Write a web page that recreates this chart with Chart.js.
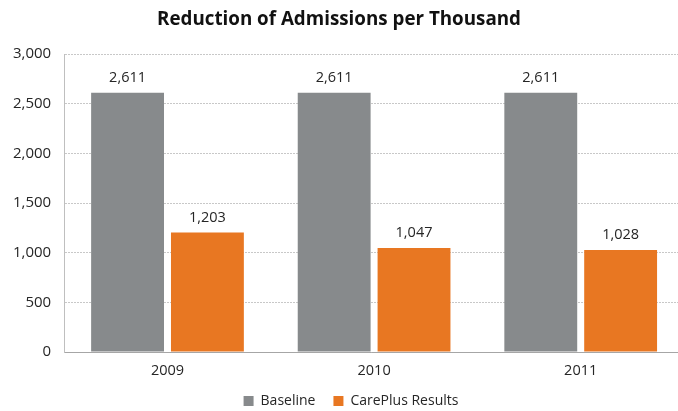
<!DOCTYPE html>
<html><head><meta charset="utf-8">
<script src="https://cdn.jsdelivr.net/npm/chart.js@4"></script>
<style>html,body{margin:0;padding:0;background:#fff;overflow:hidden}#wrap{width:678px;height:411px}</style>
</head><body><div id="wrap"><canvas id="c" width="678" height="411"></canvas></div>
<script>
const categories = ["2009", "2010", "2011"];
const baseline = [2611, 2611, 2611];
const careplus = [1203, 1047, 1028];
const yTicks = [0, 500, 1000, 1500, 2000, 2500, 3000];
const seriesNames = ["Baseline", "CarePlus Results"];

const FONT = "'Open Sans', 'Noto Sans', sans-serif";

const labelPlugin = {
  id: 'valueLabels',
  afterDatasetsDraw(chart) {
    const ctx = chart.ctx;
    ctx.save();
    ctx.font = "14.5px " + FONT;
    ctx.fillStyle = '#262626';
    ctx.textAlign = 'center';
    ctx.textBaseline = 'middle';
    chart.data.datasets.forEach((ds, i) => {
      chart.getDatasetMeta(i).data.forEach((bar, j) => {
        ctx.fillText(ds.data[j].toLocaleString('en-US'), bar.x, bar.y - 15);
      });
    });
    ctx.restore();
  }
};

// Plot area placement as in the reference (it runs slightly past the right edge).
const areaPlugin = {
  id: 'areaAdjust',
  afterLayout(chart) {
    const x = chart.scales.x, y = chart.scales.y, a = chart.chartArea;
    const top = 54, bottom = 352, right = 684;
    x.right = right; x.width = right - x.left;
    const xh = x.height; x.top = bottom; x.bottom = bottom + xh;
    x.configure();
    y.top = top; y.bottom = bottom; y.height = bottom - top;
    y.configure();
    a.right = right; a.width = right - a.left;
    a.top = top; a.bottom = bottom; a.height = bottom - top;
    const lg = chart.legend;
    if (lg) {
      lg.left += 12; lg.right += 12;
      const h = lg.height; lg.top = 376; lg.bottom = 376 + h;
    }
  }
};

new Chart(document.getElementById('c'), {
  type: 'bar',
  data: {
    labels: categories,
    datasets: [
      { label: seriesNames[0], data: baseline, backgroundColor: '#878a8c', categoryPercentage: 0.773, barPercentage: 0.9125 },
      { label: seriesNames[1], data: careplus, backgroundColor: '#e87722', categoryPercentage: 0.773, barPercentage: 0.9125 }
    ]
  },
  options: {
    responsive: false,
    animation: false,
    layout: { padding: { left: 0, right: 0, top: 2, bottom: 0 } },
    plugins: {
      title: { display: true, text: 'Reduction of Admissions per Thousand', color: '#111', font: { family: FONT, size: 18.8, weight: 'bold' }, padding: { top: 6, bottom: 24 } },
      legend: { position: 'bottom', labels: { boxWidth: 10, boxHeight: 10, color: '#262626', font: { family: FONT, size: 14 }, padding: 18 } },
      tooltip: { enabled: false }
    },
    scales: {
      x: {
        grid: { display: false, drawTicks: false },
        border: { color: '#a6a6a6', width: 1 },
        ticks: { color: '#262626', font: { family: FONT, size: 14.5 }, padding: 10 }
      },
      y: {
        min: 0, max: 3000,
        afterBuildTicks(scale) { scale.ticks = yTicks.map(v => ({ value: v })); },
        grid: { color: '#c8c8c8', drawTicks: false },
        border: { color: '#bfbfbf', width: 1, dash: [2, 1] },
        ticks: { color: '#262626', font: { family: FONT, size: 15 }, padding: 13 }
      }
    }
  },
  plugins: [labelPlugin, areaPlugin]
});
</script></body></html>
